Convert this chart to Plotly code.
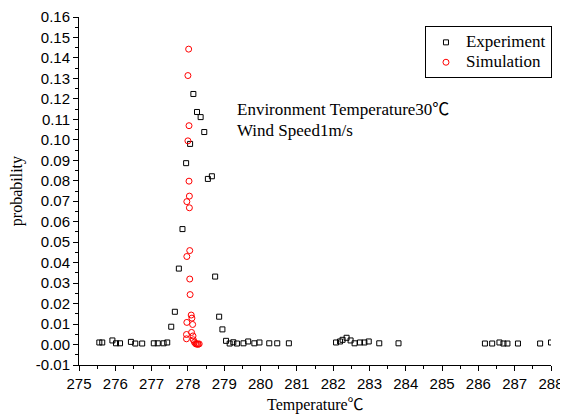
import plotly.graph_objects as go

exp_x = [275.56, 275.64, 275.92, 276.02, 276.13, 276.43, 276.55, 276.74, 277.06, 277.17,
         277.33, 277.43, 277.54, 277.64, 277.75, 277.85, 277.95, 278.06, 278.15, 278.25,
         278.35, 278.45, 278.55, 278.66, 278.75, 278.86, 278.95, 279.05, 279.15, 279.25,
         279.35, 279.53, 279.66, 279.83, 279.97, 280.24, 280.46, 280.78, 282.08, 282.19,
         282.26, 282.37, 282.48, 282.59, 282.74, 282.86, 282.98, 283.27, 283.80, 286.18,
         286.38, 286.58, 286.69, 286.80, 287.09, 287.70, 288.00]
exp_y = [0.0010, 0.0010, 0.0020, 0.0006, 0.0006, 0.0013, 0.0005, 0.0005, 0.0006, 0.0006,
         0.0006, 0.0010, 0.0087, 0.0160, 0.0371, 0.0564, 0.0886, 0.0980, 0.1224, 0.1136,
         0.1111, 0.1038, 0.0809, 0.0822, 0.0332, 0.0136, 0.0074, 0.0018, 0.0005, 0.0011,
         0.0005, 0.0006, 0.0015, 0.0006, 0.0010, 0.0006, 0.0006, 0.0006, 0.0010, 0.0015,
         0.0023, 0.0033, 0.0020, 0.0006, 0.0010, 0.0010, 0.0015, 0.0006, 0.0006, 0.0005,
         0.0005, 0.0010, 0.0005, 0.0005, 0.0005, 0.0005, 0.0010]

sim_x = [278.02, 278.00, 278.03, 278.00, 278.03, 278.04, 277.97, 278.04, 278.05, 277.97,
         278.05, 278.06, 278.09, 278.11, 277.97, 278.13, 278.10, 278.14, 277.96, 277.96,
         278.15, 278.18, 278.21, 278.23, 278.26, 278.28, 278.31]
sim_y = [0.1443, 0.1314, 0.1069, 0.0995, 0.0798, 0.0725, 0.0698, 0.0668, 0.0459, 0.0430,
         0.0320, 0.0244, 0.0144, 0.0129, 0.0108, 0.0098, 0.0059, 0.0042, 0.0049, 0.0028,
         0.0023, 0.0011, 0.0005, 0.0002, 0.0003, 0.0001, 0.0003]

x_ticks = list(range(275, 289))
y_ticks = [-0.01, 0.00, 0.01, 0.02, 0.03, 0.04, 0.05, 0.06, 0.07, 0.08, 0.09,
           0.10, 0.11, 0.12, 0.13, 0.14, 0.15, 0.16]

DEG = '<span style="font-family:Noto Sans CJK SC">℃</span>'

def big(s):
    return '<span style="font-size:17px">' + s + '</span>'

fig = go.Figure()
fig.add_trace(go.Scatter(
    x=exp_x, y=exp_y, mode="markers", name=big("Experiment"),
    marker=dict(symbol="square-open", size=5, color="black", line=dict(width=1, color="black")),
))
fig.add_trace(go.Scatter(
    x=sim_x, y=sim_y, mode="markers", name=big("Simulation"),
    marker=dict(symbol="circle-open", size=6, color="red", line=dict(width=1, color="red")),
))

tick_font = dict(family="Liberation Sans, Arial", size=15, color="black")
serif = "Liberation Serif, Times New Roman"

# page body has an 8px margin, so the figure is drawn 8px smaller and shifted
fig.update_layout(
    width=560, height=406,
    margin=dict(l=71, r=17, t=9, b=49, autoexpand=False),
    paper_bgcolor="white", plot_bgcolor="white",
    showlegend=True,
    legend=dict(
        x=0.733, y=0.973, xanchor="left", yanchor="top",
        bordercolor="black", borderwidth=1, bgcolor="white",
        font=dict(family=serif, size=13, color="black"),
        tracegroupgap=0,
    ),
    xaxis=dict(
        range=[275, 288], tickmode="array", tickvals=x_ticks,
        ticktext=[str(v) for v in x_ticks],
        showline=True, linecolor="black", linewidth=1, mirror=False,
        ticks="outside", ticklen=5, tickcolor="black", tickwidth=1,
        minor=dict(dtick=0.5, ticks="outside", ticklen=3, tickcolor="black", tickwidth=1),
        showgrid=False, zeroline=False, tickfont=tick_font, automargin=False,
    ),
    yaxis=dict(
        range=[-0.01, 0.16], tickmode="array", tickvals=y_ticks,
        ticktext=[f"{v:.2f}" for v in y_ticks],
        showline=True, linecolor="black", linewidth=1, mirror=False,
        ticks="outside", ticklen=5, tickcolor="black", tickwidth=1,
        minor=dict(dtick=0.005, ticks="outside", ticklen=3, tickcolor="black", tickwidth=1),
        showgrid=False, zeroline=False, tickfont=tick_font, automargin=False,
    ),
    annotations=[
        dict(text="Environment Temperature30" + DEG, xref="paper", yref="paper",
             x=0.3305, y=0.74, xanchor="left", yanchor="middle", showarrow=False,
             font=dict(family=serif, size=17, color="black")),
        dict(text="Wind Speed1m/s", xref="paper", yref="paper",
             x=0.3305, y=0.673, xanchor="left", yanchor="middle", showarrow=False,
             font=dict(family=serif, size=17, color="black")),
        dict(text="Temperature" + DEG, xref="paper", yref="paper",
             x=0.5, y=-0.108, xanchor="center", yanchor="middle", showarrow=False,
             font=dict(family=serif, size=16, color="black")),
        dict(text="probability", xref="paper", yref="paper", textangle=-90,
             x=-0.131, y=0.5, xanchor="center", yanchor="middle", showarrow=False,
             font=dict(family=serif, size=16, color="black")),
    ],
)

fig.write_html("out.html")
